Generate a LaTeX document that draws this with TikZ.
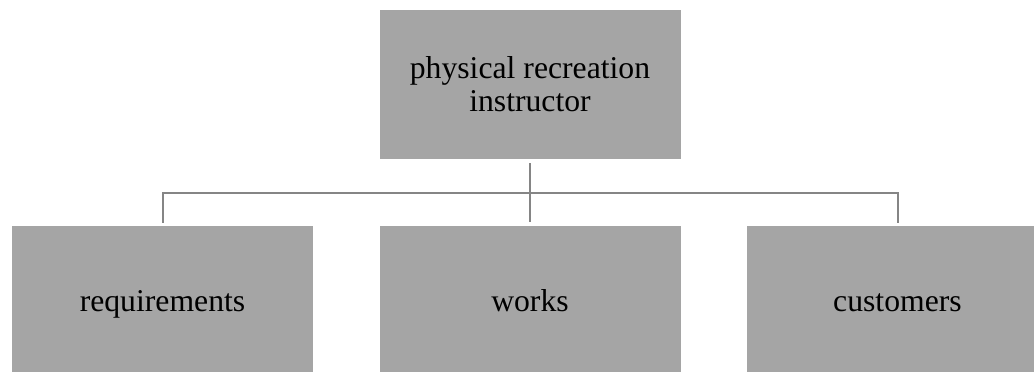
\documentclass[tikz,border=0pt]{standalone}
\usepackage{fontspec}
\setmainfont{Liberation Serif}
\definecolor{boxgray}{HTML}{A5A5A5}
\definecolor{linegray}{HTML}{858585}
\begin{document}
\begin{tikzpicture}[x=1pt,y=1pt,
  box/.style={fill=boxgray, draw=none, minimum width=301pt, minimum height=149pt,
    inner sep=0pt, align=center, font=\fontsize{31.7}{33}\selectfont, text=black},
  lowbox/.style={box, text height=29pt, text depth=7pt},
  conn/.style={draw=linegray, line width=2pt}]
\useasboundingbox (0,0) rectangle (1034,-372);
\clip (0,0) rectangle (1034,-372);
\node[box] (top) at (530,-84.5) {physical recreation\\instructor};
\node[lowbox] (left) at (162.5,-300.5) {requirements};
\node[lowbox] (mid) at (530,-300.5) {works};
\node[lowbox] (right) at (897.5,-300.5) {customers};
\coordinate (bus) at (530,-193);
\draw[conn] ([yshift=-4pt]top.south) -- ([yshift=4pt]mid.north);
\draw[conn] ([yshift=3pt]left.north) -- (left.north |- bus) -- (right.north |- bus) -- ([yshift=3pt]right.north);
\end{tikzpicture}
\end{document}
